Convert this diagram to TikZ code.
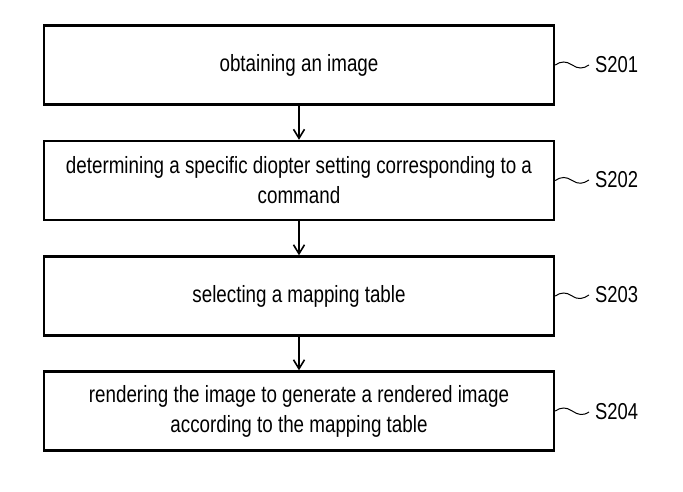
\documentclass[tikz,border=0pt]{standalone}
\usepackage{fontspec}
\setmainfont{Liberation Sans}[FakeStretch=0.8]
\usepackage{tikz}
\usetikzlibrary{arrows.meta}

\begin{document}
\begin{tikzpicture}[x=1pt,y=1pt,
    stepbox/.style={draw, line width=2.4pt, minimum width=510pt, minimum height=79pt,
        align=center, inner sep=0pt, font=\fontsize{23.5}{30}\selectfont},
    steplabel/.style={anchor=west, inner xsep=6pt, inner ysep=0pt, font=\fontsize{23}{28}\selectfont},
    flow/.style={-{Straight Barb[length=9pt,width=11pt]}, line width=1.6pt},
    wave/.style={line width=1pt}]
    \useasboundingbox (0,0) rectangle (683,-492);

    % Passos
    \node[stepbox] (s201) at (299,-65) {obtaining an image};
    \node[stepbox] (s202) at (299,-180.5) {determining a specific diopter setting corresponding to a\\command};
    \node[stepbox] (s203) at (299,-296) {selecting a mapping table};
    \node[stepbox] (s204) at (299,-411) {rendering the image to generate a rendered image\\according to the mapping table};

    % Rotulos
    \node[steplabel] (l201) at (589,-65) {S201};
    \node[steplabel] (l202) at (589,-180) {S202};
    \node[steplabel] (l203) at (589,-295) {S203};
    \node[steplabel] (l204) at (589,-412) {S204};

    % Setas
    \draw[flow] (s201) -- (s202);
    \draw[flow] (s202) -- (s203);
    \draw[flow] (s203) -- (s204);

    % Linhas onduladas
    \foreach \n in {201,202,203,204}
        \draw[wave] (s\n.east) .. controls +(6,4) and +(-6,4) .. ++(17,0)
            .. controls +(6,-4) and +(-6,-4) .. (l\n.west);
\end{tikzpicture}
\end{document}
